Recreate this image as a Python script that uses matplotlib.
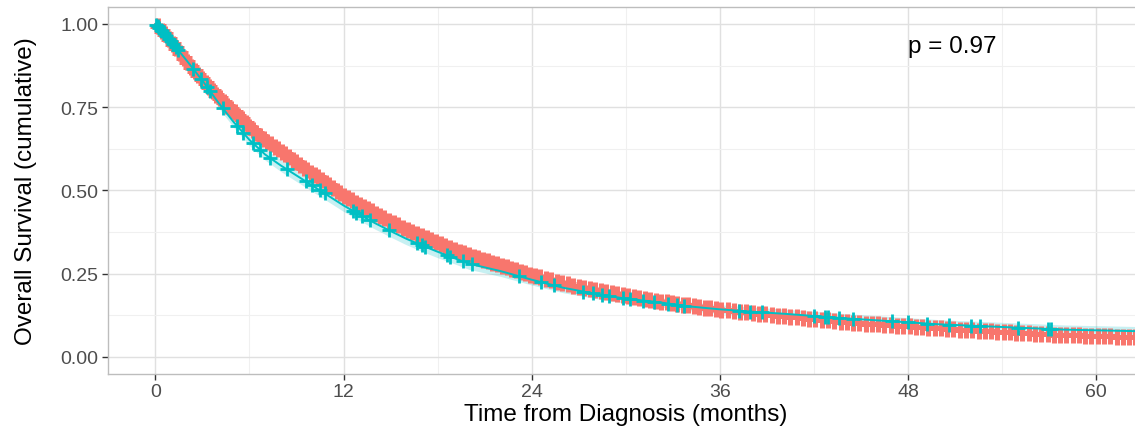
import numpy as np
import matplotlib
matplotlib.use("Agg")
import matplotlib.pyplot as plt

plt.rcParams['font.family'] = ['Liberation Sans', 'DejaVu Sans']

# ---- data ----
red_t = [0, 0.5, 1, 2, 3, 4, 5, 6, 7, 8, 9, 10, 11, 12, 13, 14, 15, 16, 17, 18, 19, 20,
         22, 24, 26, 28, 30, 32, 34, 36, 38, 40, 42, 44, 46, 48, 50, 52, 54, 56, 58, 60, 63]
red_s = [1.0, 0.975, 0.947, 0.885, 0.832, 0.782, 0.737, 0.690, 0.652, 0.618, 0.585, 0.552,
         0.520, 0.485, 0.458, 0.432, 0.407, 0.384, 0.362, 0.342, 0.323, 0.306,
         0.276, 0.246, 0.221, 0.2, 0.183, 0.168, 0.155, 0.142, 0.132, 0.123, 0.114,
         0.105, 0.098, 0.092, 0.086, 0.08, 0.075, 0.07, 0.066, 0.063, 0.059]

teal_t = [0, 0.5, 1, 2, 3, 4, 5, 6, 7, 8, 9, 10, 11, 12, 13, 14, 15, 16, 17, 18, 19, 20,
          22, 24, 26, 28, 30, 32, 34, 36, 38, 40, 42, 44, 46, 48, 50, 52, 54, 56, 58, 60, 63]
teal_s = [1.0, 0.975, 0.948, 0.89, 0.83, 0.765, 0.705, 0.652, 0.608, 0.575, 0.545, 0.515,
          0.485, 0.455, 0.428, 0.402, 0.378, 0.355, 0.335, 0.316, 0.298, 0.28,
          0.258, 0.232, 0.208, 0.19, 0.175, 0.165, 0.152, 0.143, 0.136, 0.13, 0.123,
          0.116, 0.11, 0.104, 0.098, 0.094, 0.09, 0.086, 0.082, 0.08, 0.077]
teal_lo = [1.0, 0.968, 0.937, 0.877, 0.816, 0.750, 0.689, 0.635, 0.591, 0.557, 0.527, 0.497,
           0.467, 0.437, 0.410, 0.384, 0.360, 0.337, 0.317, 0.298, 0.281, 0.263,
           0.242, 0.216, 0.193, 0.176, 0.161, 0.151, 0.139, 0.130, 0.123, 0.117, 0.110,
           0.103, 0.097, 0.091, 0.085, 0.081, 0.077, 0.073, 0.069, 0.067, 0.064]
teal_hi = [1.0, 0.982, 0.959, 0.903, 0.844, 0.780, 0.721, 0.669, 0.625, 0.593, 0.563, 0.533,
           0.503, 0.473, 0.446, 0.420, 0.396, 0.373, 0.353, 0.334, 0.315, 0.297,
           0.274, 0.248, 0.224, 0.205, 0.190, 0.180, 0.166, 0.157, 0.150, 0.144, 0.137,
           0.130, 0.124, 0.118, 0.112, 0.108, 0.104, 0.100, 0.096, 0.094, 0.091]

teal_censor = [0.05, 0.15, 0.25, 0.35, 0.45, 0.55, 0.7, 0.85, 1.0, 1.15, 1.3, 1.45, 2.4,
               2.9, 3.3, 3.5, 4.3, 5.2, 5.6, 6.25, 6.7, 7.3, 8.4, 9.6, 10.0, 10.5, 10.8,
               12.6, 12.8, 13.2, 13.7, 14.9, 16.7, 17.0, 17.2, 18.6, 18.8, 19.6, 20.2,
               23.2, 24.6, 25.4, 27.3, 27.9, 28.5, 28.9, 29.8, 30.3, 31.1, 31.8, 32.7,
               33.3, 33.7, 37.2, 37.9, 38.7, 42.0, 42.7, 42.9, 43.6, 44.5, 47.0, 48.0,
               49.2, 50.6, 52.0, 52.6, 55.0, 56.9, 57.1]

red_censor = [0.15, 0.4, 0.6, 0.85, 1.1, 1.3, 1.55, 1.8, 2.0, 2.25, 2.5, 2.7, 2.95, 3.2,
              3.4, 3.65, 3.9, 4.1, 4.35, 4.6, 4.8, 5.05, 5.3, 5.5, 5.75, 6.0, 6.2, 6.45,
              6.7, 6.9, 7.15, 7.4, 7.6, 7.85, 8.1, 8.3, 8.55, 8.8, 9.0, 9.25, 9.5, 9.7,
              9.95, 10.2, 10.4, 10.65, 10.9, 11.1, 11.35, 11.6, 11.8, 12.05, 12.3, 12.55,
              12.8, 13.05, 13.3, 13.55, 13.8, 14.05, 14.3, 14.6, 14.9, 15.2, 15.5, 15.8,
              16.1, 16.4, 16.7, 17.0, 17.3, 17.6, 17.9, 18.2, 18.5, 18.8, 19.1, 19.4,
              19.7, 20.0, 20.3, 20.6, 20.9, 21.2, 21.5, 21.8, 22.1, 22.4, 22.7, 23.0,
              23.3, 23.6, 23.9, 24.2, 24.55, 24.9, 25.25, 25.6, 25.95, 26.3, 26.65, 27.0,
              27.35, 27.7, 28.05, 28.4, 28.75, 29.1, 29.45, 29.8, 30.15, 30.5, 30.85,
              31.2, 31.55, 31.9, 32.25, 32.6, 32.95, 33.3, 33.65, 34.0, 34.35, 34.7,
              35.05, 35.4, 35.75, 36.1, 36.5, 36.9, 37.3, 37.7, 38.1, 38.5, 38.9, 39.3,
              39.7, 40.1, 40.5, 40.9, 41.3, 41.7, 42.1, 42.5, 42.9, 43.3, 43.7, 44.1,
              44.5, 44.9, 45.3, 45.7, 46.1, 46.5, 46.9, 47.3, 47.7, 48.1, 48.5, 48.9,
              49.3, 49.7, 50.1, 50.5, 50.9, 51.3, 51.7, 52.1, 52.5, 52.9, 53.3, 53.7,
              54.1, 54.5, 54.9, 55.3, 55.7, 56.1, 56.5, 56.9, 57.3, 57.7, 58.1, 58.5,
              58.9, 59.3, 59.7, 60.1, 60.5, 60.9, 61.3, 61.7, 62.1, 62.5, 62.9]

x_ticks = [0, 12, 24, 36, 48, 60]
y_ticks = [0.0, 0.25, 0.5, 0.75, 1.0]
y_ticklabels = ["0.00", "0.25", "0.50", "0.75", "1.00"]
p_text = "p = 0.97"

RED = "#F8766D"
TEAL = "#00BFC4"

fig = plt.figure(figsize=(11.35, 4.31), dpi=100)
ax = fig.add_axes([108.3 / 1135, 1 - 374.6 / 431, (1143.2 - 108.3) / 1135, 366.3 / 431])

ax.set_xlim(-3, 63)
ax.set_ylim(-0.05, 1.05)

# grid
ax.set_xticks(x_ticks)
ax.set_xticks([6, 18, 30, 42, 54], minor=True)
ax.set_yticks(y_ticks)
ax.set_yticks([0.125, 0.375, 0.625, 0.875], minor=True)
ax.grid(which='major', color='#E0E0E0', linewidth=1.0, zorder=0)
ax.grid(which='minor', color='#F0F0F0', linewidth=0.8, zorder=0)
ax.set_axisbelow(True)

# teal confidence band
ax.fill_between(teal_t, teal_lo, teal_hi, color=TEAL, alpha=0.22, linewidth=0, zorder=1)

# red curve and censor marks
ax.plot(red_t, red_s, color=RED, linewidth=1.5, zorder=2)
red_cy = np.interp(red_censor, red_t, red_s)
ax.plot(red_censor, red_cy, linestyle='none', marker='+', markersize=11,
        markeredgewidth=3.6, color=RED, zorder=3)

# teal curve and censor marks
ax.plot(teal_t, teal_s, color=TEAL, linewidth=1.4, zorder=4)
teal_cy = np.interp(teal_censor, teal_t, teal_s)
ax.plot(teal_censor, teal_cy, linestyle='none', marker='+', markersize=9.5,
        markeredgewidth=2.0, color=TEAL, zorder=5)

ax.text(50.8, 0.935, p_text, ha='center', va='center', fontsize=17.5, color='black')

ax.set_yticklabels(y_ticklabels)
ax.tick_params(which='major', direction='out', length=4, width=1, color='#333333',
               labelsize=14, labelcolor='#4D4D4D', pad=3)
ax.tick_params(which='minor', length=0)

for side in ['left', 'right', 'top', 'bottom']:
    ax.spines[side].set_color('#BDBDBD')
    ax.spines[side].set_linewidth(1.0)

ax.set_xlabel("Time from Diagnosis (months)", fontsize=17.5, color='black', labelpad=2)
ax.set_ylabel("Overall Survival (cumulative)", fontsize=17.5, color='black', labelpad=17)

fig.savefig("out.png", dpi=100)
